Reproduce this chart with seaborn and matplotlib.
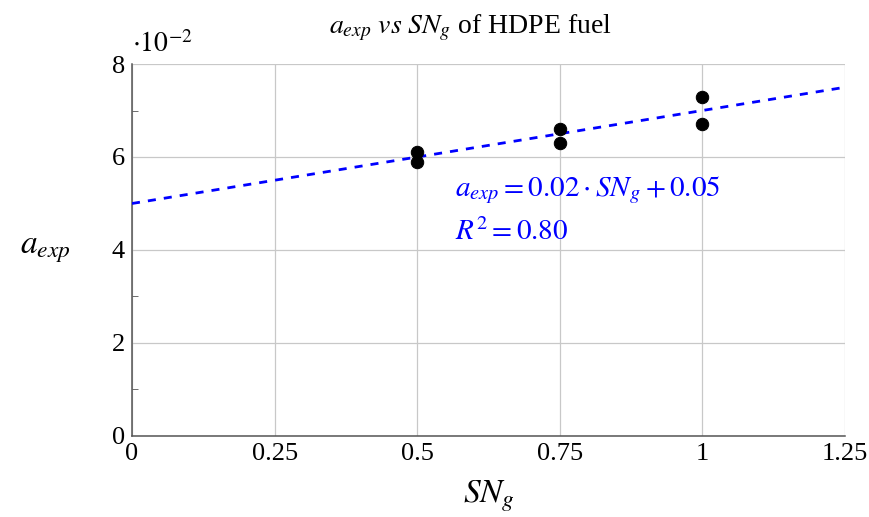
import numpy as np
import pandas as pd
from matplotlib import pyplot as plt
from matplotlib.ticker import FuncFormatter, MultipleLocator
import seaborn as sns

# measured points
sn_g = [0.5, 0.5, 0.75, 0.75, 1.0, 1.0]
a_exp = [0.061, 0.059, 0.066, 0.063, 0.073, 0.067]

# linear fit shown in the chart
fit_slope = 0.02
fit_intercept = 0.05
fit_r2 = 0.80

x_ticks = [0, 0.25, 0.5, 0.75, 1.0, 1.25]
x_tick_labels = ["0", "0.25", "0.5", "0.75", "1", "1.25"]
y_ticks = [0, 0.02, 0.04, 0.06, 0.08]


def plot_aexp():
    sns.set_style("white")
    plt.rcParams['font.family'] = ['Liberation Serif', 'DejaVu Serif']
    plt.rcParams['mathtext.fontset'] = 'stix'
    plt.rcParams['text.color'] = 'black'
    plt.rcParams['axes.labelcolor'] = 'black'

    fig = plt.figure(figsize=(8.7, 5.17), dpi=100)
    ax = fig.add_axes([0.1517, 0.1567, 0.8196, 0.7195])

    ax.set_xlim(0, 1.25)
    ax.set_ylim(0, 0.08)

    df = pd.DataFrame({'SN_g': sn_g, 'a_exp': a_exp})
    xs = np.linspace(0, 1.25, 50)
    fit = pd.DataFrame({'x': xs, 'y': fit_slope * xs + fit_intercept})

    sns.lineplot(x='x', y='y', data=fit, ax=ax, color='#0000ff',
                 linestyle=(0, (2.9, 2.9)), linewidth=2.0, zorder=3)
    sns.scatterplot(x='SN_g', y='a_exp', data=df, ax=ax, color='black',
                    s=80, edgecolor='black', zorder=4)

    ax.set_xticks(x_ticks)
    ax.set_xticklabels(x_tick_labels)
    ax.set_yticks(y_ticks)
    ax.yaxis.set_major_formatter(FuncFormatter(lambda v, p: f"{v * 100:g}"))
    ax.yaxis.set_minor_locator(MultipleLocator(0.01))
    ax.grid(True, which='major', color='#c8c8c8', linewidth=0.9)
    ax.set_axisbelow(True)

    for side in ['top', 'right']:
        ax.spines[side].set_visible(False)
    for side in ['left', 'bottom']:
        ax.spines[side].set_color('#555555')
        ax.spines[side].set_linewidth(1.1)
    ax.tick_params(axis='both', which='both', direction='in', colors='#555555',
                   labelcolor='black', labelsize=19)
    ax.tick_params(axis='both', which='major', length=5, pad=5)
    ax.tick_params(axis='y', which='minor', length=4, left=True)
    ax.tick_params(axis='x', which='minor', bottom=False)

    ax.set_xlabel(r'$SN_g$', fontsize=24, labelpad=10)
    ax.set_ylabel(r'$a_{exp}$', fontsize=24, rotation=0, labelpad=48, va='center')
    ax.set_title(r'$a_{exp}\ vs\ SN_g$ of HDPE fuel', fontsize=20, pad=22, x=0.474)
    ax.text(0.0, 1.015, r'$\cdot 10^{-2}$', transform=ax.transAxes,
            fontsize=20, ha='left', va='bottom')

    ax.text(0.567, 0.0529, r'$a_{exp} = 0.02 \cdot SN_g + 0.05$',
            color='#0000ff', fontsize=21, va='center')
    ax.text(0.567, 0.0439, r'$R^2 = %.2f$' % fit_r2,
            color='#0000ff', fontsize=21, va='center')

    plt.savefig('out.png', dpi=100)


if __name__ == '__main__':
    plot_aexp()
